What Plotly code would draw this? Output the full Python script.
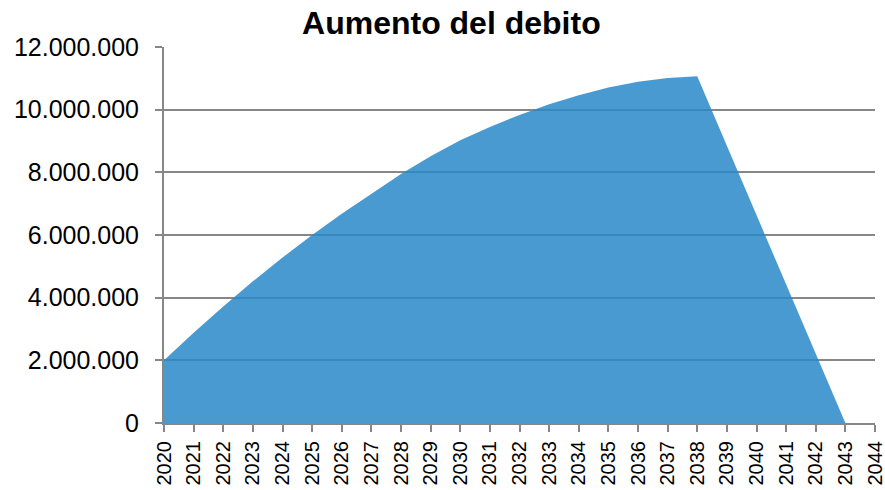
import plotly.graph_objects as go

years = list(range(2020, 2044))
debt = [2000000, 2880000, 3720000, 4520000, 5280000, 6000000, 6680000, 7320000,
        7950000, 8510000, 9020000, 9450000, 9830000, 10170000, 10460000, 10710000,
        10890000, 11010000, 11070000, 8850000, 6630000, 4410000, 2200000, 0]
tick_years = list(range(2020, 2045))
title = "Aumento del debito"

fig = go.Figure()
fig.add_trace(go.Scatter(
    x=years, y=debt, mode="lines", fill="tozeroy",
    line=dict(width=0, color="rgba(42,136,202,0.85)"),
    fillcolor="rgba(42,136,202,0.85)", hoverinfo="skip", showlegend=False,
))

grid = "#878787"
fig.update_layout(
    width=885, height=490,
    margin=dict(l=164, r=10, t=47, b=67, autoexpand=False),
    paper_bgcolor="white", plot_bgcolor="white",
    separators=",.",
    font=dict(family="Liberation Sans, Arial, sans-serif", color="#000000"),
    title=dict(text="<b>" + title + "</b>", x=0.51, xanchor="center",
               y=0.953, yanchor="middle", xref="container",
               font=dict(size=32, family="Liberation Sans, Arial, sans-serif", color="#000")),
)
fig.update_xaxes(
    range=[2020, 2044.0001], tickmode="array", tickvals=tick_years,
    ticktext=[str(y) for y in tick_years], tickangle=-90,
    showgrid=False, zeroline=False, showline=True, linecolor=grid, linewidth=2,
    ticks="outside", ticklen=7, tickwidth=2, tickcolor=grid,
    tickfont=dict(size=20, color="#000"), automargin=False,
    ticklabeloverflow="allow", ticklabelstandoff=1,
)
fig.update_yaxes(
    range=[0, 12000000], tickmode="linear", tick0=0, dtick=2000000,
    tickformat=",d", showgrid=True, gridcolor=grid, gridwidth=1.6,
    zeroline=False, showline=True, linecolor=grid, linewidth=2,
    ticks="outside", ticklen=7, tickwidth=2, tickcolor=grid,
    tickfont=dict(size=25, color="#000"), ticklabelstandoff=11, automargin=False,
)

fig.write_html("out.html")
